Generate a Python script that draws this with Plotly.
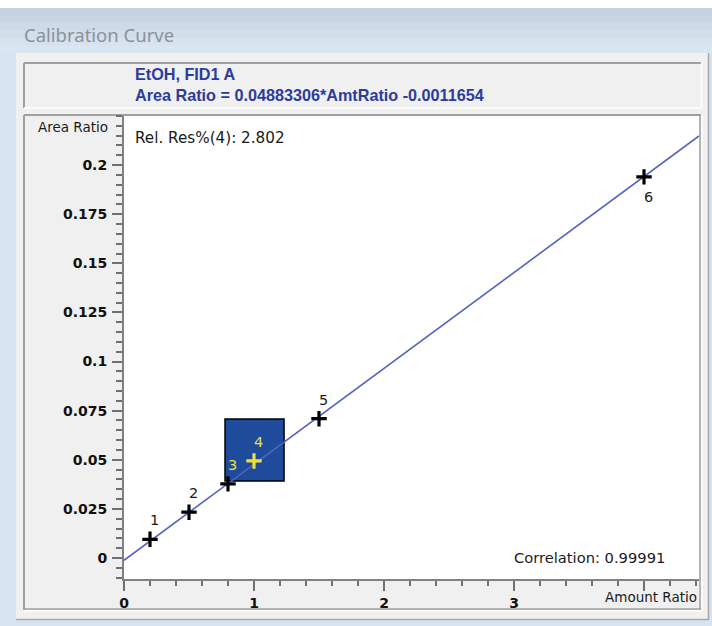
import plotly.graph_objects as go

# ---------------- data ----------------
amt_ratio = [0.2, 0.5, 0.8, 1.0, 1.5, 4.0]
area_ratio = [0.0095, 0.0233, 0.0377, 0.0494, 0.0709, 0.194]
level_labels = ["1", "2", "3", "4", "5", "6"]
slope = 0.04883306
intercept = -0.0011654
correlation = "0.99991"
rel_res = "2.802"
selected_level = "4"
compound = "EtOH, FID1 A"

y_tick_vals = [0, 0.025, 0.05, 0.075, 0.1, 0.125, 0.15, 0.175, 0.2]
y_tick_text = ["0", "0.025", "0.05", "0.075", "0.1", "0.125", "0.15", "0.175", "0.2"]
x_tick_vals = [0, 1, 2, 3, 4]
x_tick_text = ["0", "1", "2", "3", ""]

x_range = [0, 4.423]
y_range = [-0.0107, 0.225]

# ---------------- geometry helpers (pixel -> paper) ----------------
W, H = 712, 626
L, R, T, B = 124, 699, 116, 579


def fx(px):
    return (px - L) / (R - L)


def fy(py):
    return (B - py) / (B - T)


TICK_FONT = dict(family="DejaVu Sans", size=14, color="#111111", weight="bold")
LBL_FONT = "DejaVu Sans"

fig = go.Figure()

# regression line
x_line = [x_range[0], x_range[1]]
y_line = [slope * v + intercept for v in x_line]
fig.add_trace(go.Scatter(
    x=x_line, y=y_line, mode="lines",
    line=dict(color="#5363bd", width=1.6),
    hoverinfo="skip", showlegend=False, cliponaxis=True,
))

# calibration points
marker_colors = ["#e8e23a" if lb == selected_level else "#000000" for lb in level_labels]
fig.add_trace(go.Scatter(
    x=amt_ratio, y=area_ratio, mode="markers",
    marker=dict(symbol="cross-thin", size=11, line=dict(width=3.2, color=marker_colors)),
    showlegend=False,
))

shapes = []


def prect(x0, y0, x1, y1, fill=None, line=None, width=0):
    shapes.append(dict(
        type="rect", xref="paper", yref="paper",
        x0=fx(x0), x1=fx(x1), y0=fy(y1), y1=fy(y0),
        fillcolor=fill if fill else "rgba(0,0,0,0)",
        line=dict(color=line if line else "rgba(0,0,0,0)", width=width),
        layer="below",
    ))


def pline(x0, y0, x1, y1, color, width):
    shapes.append(dict(
        type="line", xref="paper", yref="paper",
        x0=fx(x0), x1=fx(x1), y0=fy(y0), y1=fy(y1),
        line=dict(color=color, width=width), layer="below",
    ))


# window title band (gradient imitation)
prect(0, 0, W, 8, fill="#ffffff")
bands = ["#c4d1df", "#c9d6e4", "#cedae7", "#d2deea", "#d6e2ee", "#d9e5f1"]
bh = (53 - 8) / len(bands)
for i, c in enumerate(bands):
    prect(0, 8 + i * bh, W, 8 + (i + 1) * bh + 0.5, fill=c)

# outer panel
prect(16, 53, 709, 620, fill="#f0f0f0")
pline(708.5, 53, 708.5, 620, "#a8a8a8", 1.5)
pline(16, 619.5, 709, 619.5, "#a8a8a8", 1.5)

# header box (sunken)
pline(24, 63, 701, 63, "#a0a0a0", 2)
pline(24, 63, 24, 108, "#a0a0a0", 2)
pline(24, 108, 702, 108, "#ffffff", 1.5)
pline(701.5, 63, 701.5, 108, "#ffffff", 1.5)

# plot box
prect(L, T, R, B, fill="#ffffff")
pline(24, 115, 701, 115, "#a0a0a0", 2)
pline(24, 115, 24, 610, "#a0a0a0", 2)
pline(700, 115, 700, 610, "#a0a0a0", 1.5)
pline(24, 609, 701, 609, "#a0a0a0", 1.5)
pline(24, 611, 702, 611, "#ffffff", 1.5)
pline(702, 115, 702, 611, "#ffffff", 1.5)

# selected level highlight box (around level 4)
sel_i = level_labels.index(selected_level)
sx, sy = amt_ratio[sel_i], area_ratio[sel_i]
shapes.append(dict(
    type="rect", xref="x", yref="y",
    x0=sx - 0.223, x1=sx + 0.231, y0=sy - 0.0102, y1=sy + 0.0213,
    fillcolor="#1f4b9c", line=dict(color="#000000", width=1.5), layer="below",
))

annotations = []
# point labels
for xv, yv, lb in zip(amt_ratio, area_ratio, level_labels):
    above = xv < 3
    col = "#e8e23a" if lb in ("3", selected_level) else "#1a1a1a"
    annotations.append(dict(
        x=xv, y=yv, xref="x", yref="y", text=lb, showarrow=False,
        xshift=4, yshift=19 if above else -20,
        font=dict(family=LBL_FONT, size=14.5, color=col),
    ))

# texts
annotations += [
    dict(x=fx(22), y=fy(35), xref="paper", yref="paper", text="Calibration Curve",
         showarrow=False, xanchor="left", yanchor="middle",
         font=dict(family="Noto Sans", size=18.5, color="#8a929b")),
    dict(x=fx(133), y=fy(74), xref="paper", yref="paper", text=compound,
         showarrow=False, xanchor="left", yanchor="middle",
         font=dict(family="Liberation Sans", size=16.2, color="#2b3c9e", weight="bold")),
    dict(x=fx(133), y=fy(95), xref="paper", yref="paper",
         text=f"Area Ratio = {slope}*AmtRatio {intercept}",
         showarrow=False, xanchor="left", yanchor="middle",
         font=dict(family="Liberation Sans", size=16.2, color="#2b3c9e", weight="bold")),
    dict(x=fx(133), y=fy(138), xref="paper", yref="paper", text=f"Rel. Res%({selected_level}): {rel_res}",
         showarrow=False, xanchor="left", yanchor="middle",
         font=dict(family=LBL_FONT, size=15.2, color="#1a1a1a")),
    dict(x=fx(667), y=fy(557), xref="paper", yref="paper", text=f"Correlation: {correlation}",
         showarrow=False, xanchor="right", yanchor="middle",
         font=dict(family=LBL_FONT, size=14.7, color="#1a1a1a")),
    dict(x=fx(110), y=fy(127), xref="paper", yref="paper", text="Area Ratio",
         showarrow=False, xanchor="right", yanchor="middle",
         font=dict(family=LBL_FONT, size=13.5, color="#1a1a1a")),
    dict(x=fx(699), y=fy(597), xref="paper", yref="paper", text="Amount Ratio",
         showarrow=False, xanchor="right", yanchor="middle",
         font=dict(family=LBL_FONT, size=13.5, color="#1a1a1a")),
]

fig.update_layout(
    width=W, height=H, autosize=False,
    margin=dict(l=L, r=W - R, t=T, b=H - B, pad=0),
    paper_bgcolor="#d6e4f2",
    plot_bgcolor="rgba(0,0,0,0)",
    shapes=shapes,
    annotations=annotations,
    showlegend=False,
    xaxis=dict(
        range=x_range, showgrid=False, zeroline=False,
        showline=True, linecolor="#808080", linewidth=2,
        tickmode="array", tickvals=x_tick_vals, ticktext=x_tick_text,
        ticks="outside", ticklen=10, tickwidth=1.5, tickcolor="#707070",
        tickfont=TICK_FONT, ticklabelstandoff=0,
        minor=dict(dtick=0.2, tick0=0, ticks="outside", ticklen=5,
                   tickwidth=1.5, tickcolor="#707070", showgrid=False),
        fixedrange=True,
    ),
    yaxis=dict(
        range=y_range, showgrid=False, zeroline=False,
        showline=True, linecolor="#808080", linewidth=2,
        tickmode="array", tickvals=y_tick_vals, ticktext=y_tick_text,
        ticks="outside", ticklen=10, tickwidth=1.5, tickcolor="#707070",
        tickfont=TICK_FONT, ticklabelstandoff=2,
        minor=dict(dtick=0.005, tick0=0, ticks="outside", ticklen=6,
                   tickwidth=1.5, tickcolor="#707070", showgrid=False),
        fixedrange=True,
    ),
)

fig.write_html(
    "out.html",
    config={"displayModeBar": False},
    post_script="document.body.style.margin='0';document.body.style.background='#ffffff';",
)
